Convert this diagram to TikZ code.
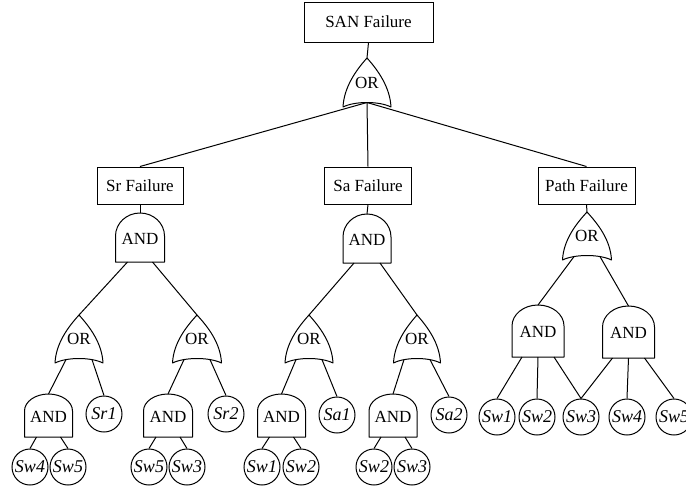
\documentclass[tikz,border=0pt]{standalone}
\usepackage{fontspec}
\setmainfont{Liberation Serif}
\newcommand\andg[7]{%
 \draw[gate] ({#2-#5},#4) -- ({#2-#5},{#3+#6}) .. controls ({#2-#5},{#3+#6-0.5523*#6}) and ({#2-0.5523*#5},#3) .. (#2,#3) .. controls ({#2+0.5523*#5},#3) and ({#2+#5},{#3+#6-0.5523*#6}) .. ({#2+#5},{#3+#6}) -- ({#2+#5},#4) -- cycle;
 \node[gtext] (#1) at (#2,{(#3+#4)/2+1}) {AND};
 \coordinate (#1-t) at (#2,#3);
 \coordinate (#1-b) at (#2,#4);
 \coordinate (#1-l) at ({#2-#7},#4);
 \coordinate (#1-r) at ({#2+#7},#4);
}
\newcommand\org[6]{%
 \draw[gate] ({#2-#5},#4) .. controls ({#2-#5/2},{#4-6}) and ({#2+#5/2},{#4-6}) .. ({#2+#5},#4) .. controls ({#2+#5-1},{#4-20}) and ({#2+0.45*#5},{#3+12}) .. (#2,#3) .. controls ({#2-0.45*#5},{#3+12}) and ({#2-#5+1},{#4-20}) .. ({#2-#5},#4) -- cycle;
 \node[gtext] (#1) at (#2,{(#3+#4)/2}) {OR};
 \coordinate (#1-t) at (#2,#3);
 \coordinate (#1-b) at (#2,{#4-4.5});
 \coordinate (#1-l) at ({#2-#6},{#4-3.4});
 \coordinate (#1-r) at ({#2+#6},{#4-3.4});
}
\begin{document}
\begin{tikzpicture}[x=1pt,y=-1pt,line width=1pt]
\tikzset{
 box/.style={draw, rectangle, minimum height=37pt, inner sep=0pt, font=\fontsize{17}{19}\selectfont},
 gtext/.style={inner sep=0pt, font=\fontsize{17}{19}\selectfont},
 gate/.style={line join=round},
 leaf/.style={draw, circle, minimum size=36pt, inner sep=0pt, font=\fontsize{18}{19}\selectfont\itshape},
 conn/.style={line width=1pt}
}
\useasboundingbox (0,0) rectangle (686,491);
% boxes
\node[box, minimum width=129pt, minimum height=40pt] (san) at (368.5,22) {SAN Failure};
\node[box, minimum width=86pt] (sr) at (140,185.5) {Sr Failure};
\node[box, minimum width=87pt] (sa) at (368,185.5) {Sa Failure};
\node[box, minimum width=97pt] (path) at (586.5,185.5) {Path Failure};
% gates
\org{or0}{367}{58}{107}{24}{12}
\andg{and1}{140}{213}{262}{24.5}{23}{12.5}
\andg{and2}{367}{214}{263}{24}{23}{13}
\org{or3}{587}{212}{260}{24.5}{13}
\org{orA}{79}{315}{363}{24}{13}
\org{orB}{197}{315}{363}{24.5}{13}
\org{orC}{309}{315}{363}{24}{13}
\org{orD}{417}{315}{363}{23.5}{13}
\andg{andE}{538}{305}{357}{26}{21}{16}
\andg{andF}{628.5}{306}{358}{26}{21}{16}
\andg{andA}{48.5}{394}{437}{24}{17}{12}
\andg{andB}{168}{394}{437}{24.5}{17}{12}
\andg{andC}{281.5}{394}{437}{24}{17}{12}
\andg{andD}{393}{394}{437}{24}{17}{12}
% leaves
\node[leaf] (sr1) at (104,414) {Sr1};
\node[leaf] (sr2) at (226,414) {Sr2};
\node[leaf] (sa1) at (337,415) {Sa1};
\node[leaf] (sa2) at (449,415) {Sa2};
\node[leaf] (a4) at (30,467) {Sw4};
\node[leaf] (a5) at (68,467) {Sw5};
\node[leaf] (b5) at (149,467) {Sw5};
\node[leaf] (b3) at (187,467) {Sw3};
\node[leaf] (c1) at (262,467) {Sw1};
\node[leaf] (c2) at (301,467) {Sw2};
\node[leaf] (d2) at (374,467) {Sw2};
\node[leaf] (d3) at (412,467) {Sw3};
\node[leaf] (p1) at (497,417) {Sw1};
\node[leaf] (p2) at (537,417) {Sw2};
\node[leaf] (p3) at (581,417) {Sw3};
\node[leaf] (p4) at (627,417) {Sw4};
\node[leaf] (p5) at (674,417) {Sw5};
% connectors
\draw[conn] (san.south) -- (or0-t);
\draw[conn] (or0-b) -- (sr.north);
\draw[conn] (or0-b) -- (sa.north);
\draw[conn] (or0-b) -- (path.north);
\draw[conn] (sr.south) -- (and1-t);
\draw[conn] (sa.south) -- (and2-t);
\draw[conn] (path.south) -- (or3-t);
\draw[conn] (and1-l) -- (orA-t);
\draw[conn] (and1-r) -- (orB-t);
\draw[conn] (and2-l) -- (orC-t);
\draw[conn] (and2-r) -- (orD-t);
\draw[conn] (or3-l) -- (andE-t);
\draw[conn] (or3-r) -- (andF-t);
\draw[conn] (orA-l) -- (andA-t);
\draw[conn] (orA-r) -- (sr1.north);
\draw[conn] (orB-l) -- (andB-t);
\draw[conn] (orB-r) -- (sr2.north);
\draw[conn] (orC-l) -- (andC-t);
\draw[conn] (orC-r) -- (sa1.north);
\draw[conn] (orD-l) -- (andD-t);
\draw[conn] (orD-r) -- (sa2.north);
\draw[conn] (andA-l) -- (a4.north);
\draw[conn] (andA-r) -- (a5.north);
\draw[conn] (andB-l) -- (b5.north);
\draw[conn] (andB-r) -- (b3.north);
\draw[conn] (andC-l) -- (c1.north);
\draw[conn] (andC-r) -- (c2.north);
\draw[conn] (andD-l) -- (d2.north);
\draw[conn] (andD-r) -- (d3.north);
\draw[conn] (andE-l) -- (p1.north);
\draw[conn] (andE-b) -- (p2.north);
\draw[conn] (andE-r) -- (p3.north);
\draw[conn] (andF-l) -- (p3.north);
\draw[conn] (andF-b) -- (p4.north);
\draw[conn] (andF-r) -- (p5.north);
\end{tikzpicture}
\end{document}
